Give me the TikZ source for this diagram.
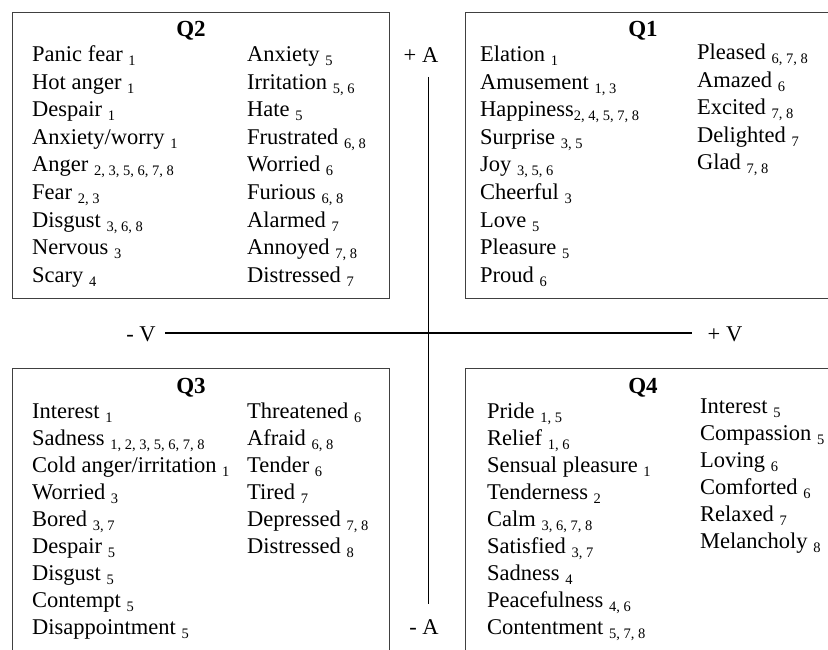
\documentclass[tikz,border=0pt]{standalone}
\usepackage{fontspec}
\setmainfont{Liberation Serif}
\newcommand\ix[1]{\raisebox{-4pt}{\fontsize{14.5}{14.5}\selectfont #1}}
\begin{document}
\begin{tikzpicture}[x=1pt,y=-1pt,
  entry/.style={anchor=base west, inner sep=0pt, font=\fontsize{22.5}{27}\selectfont},
  qtitle/.style={anchor=base, inner sep=0pt, font=\fontsize{23}{27}\selectfont\bfseries},
  qbox/.style={draw=black!75, line width=1.3pt, anchor=north west, minimum width=377pt, minimum height=286pt, inner sep=0pt},
  axis/.style={draw=black, line width=1.5pt},
  axlabel/.style={inner sep=0pt, anchor=base, font=\fontsize{22.5}{27}\selectfont}]
\useasboundingbox (0,0) rectangle (828,650);
\clip (0,0) rectangle (828,650);

% boxes
\node[qbox] (boxtwo) at (12,12) {};
\node[qbox] (boxone) at (465,12) {};
\node[qbox] (boxthree) at (12,368) {};
\node[qbox] (boxfour) at (465,368) {};

% titles
\node[qtitle] (ttwo) at (191,37) {Q2};
\node[qtitle] (tone) at (643,37) {Q1};
\node[qtitle] (tthree) at (191,393) {Q3};
\node[qtitle] (tfour) at (643,393) {Q4};

% Q2
\foreach \t [count=\i] in {{Panic fear \ix{1}},{Hot anger \ix{1}},{Despair \ix{1}},{Anxiety/worry \ix{1}},{Anger \ix{2, 3, 5, 6, 7, 8}},{Fear \ix{2, 3}},{Disgust \ix{3, 6, 8}},{Nervous \ix{3}},{Scary \ix{4}}}
  \node[entry] (qtwoL\i) at (32,{62+27.5*(\i-1)}) {\t};
\foreach \t [count=\i] in {{Anxiety \ix{5}},{Irritation \ix{5, 6}},{Hate \ix{5}},{Frustrated \ix{6, 8}},{Worried \ix{6}},{Furious \ix{6, 8}},{Alarmed \ix{7}},{Annoyed \ix{7, 8}},{Distressed \ix{7}}}
  \node[entry] (qtwoR\i) at (247,{62+27.5*(\i-1)}) {\t};

% Q1
\foreach \t [count=\i] in {{Elation \ix{1}},{Amusement \ix{1, 3}},{Happiness\ix{2, 4, 5, 7, 8}},{Surprise \ix{3, 5}},{Joy \ix{3, 5, 6}},{Cheerful \ix{3}},{Love \ix{5}},{Pleasure \ix{5}},{Proud \ix{6}}}
  \node[entry] (qoneL\i) at (480,{62+27.5*(\i-1)}) {\t};
\foreach \t [count=\i] in {{Pleased \ix{6, 7, 8}},{Amazed \ix{6}},{Excited \ix{7, 8}},{Delighted \ix{7}},{Glad \ix{7, 8}}}
  \node[entry] (qoneR\i) at (697,{60+27.5*(\i-1)}) {\t};

% Q3
\foreach \t [count=\i] in {{Interest \ix{1}},{Sadness \ix{1, 2, 3, 5, 6, 7, 8}},{Cold anger/irritation \ix{1}},{Worried \ix{3}},{Bored \ix{3, 7}},{Despair \ix{5}},{Disgust \ix{5}},{Contempt \ix{5}},{Disappointment \ix{5}}}
  \node[entry] (qthreeL\i) at (32,{418+27*(\i-1)}) {\t};
\foreach \t [count=\i] in {{Threatened \ix{6}},{Afraid \ix{6, 8}},{Tender \ix{6}},{Tired \ix{7}},{Depressed \ix{7, 8}},{Distressed \ix{8}}}
  \node[entry] (qthreeR\i) at (247,{418+27*(\i-1)}) {\t};

% Q4
\foreach \t [count=\i] in {{Pride \ix{1, 5}},{Relief \ix{1, 6}},{Sensual pleasure \ix{1}},{Tenderness \ix{2}},{Calm \ix{3, 6, 7, 8}},{Satisfied \ix{3, 7}},{Sadness \ix{4}},{Peacefulness \ix{4, 6}},{Contentment \ix{5, 7, 8}}}
  \node[entry] (qfourL\i) at (487,{418+27*(\i-1)}) {\t};
\foreach \t [count=\i] in {{Interest \ix{5}},{Compassion \ix{5}},{Loving \ix{6}},{Comforted \ix{6}},{Relaxed \ix{7}},{Melancholy \ix{8}}}
  \node[entry] (qfourR\i) at (700,{413+27*(\i-1)}) {\t};

% axes
\coordinate (atop) at (428.5,77);
\coordinate (abot) at (428.5,604);
\coordinate (vleft) at (165,333);
\coordinate (vright) at (692,333);
\draw[axis] (atop) -- (abot);
\draw[axis] (vleft) -- (vright);
\node[axlabel] (plusA) at (421,63) {+ A};
\node[axlabel] (minusA) at (424,634) {- A};
\node[axlabel] (minusV) at (141,341) {- V};
\node[axlabel] (plusV) at (725,341) {+ V};
\end{tikzpicture}
\end{document}
